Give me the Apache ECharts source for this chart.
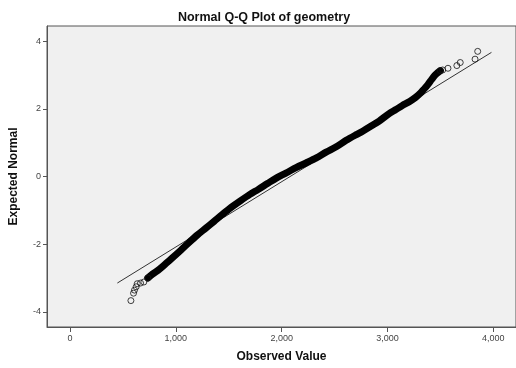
<!DOCTYPE html>
<html>
<head>
<meta charset="utf-8">
<script src="https://cdn.jsdelivr.net/npm/echarts@6/dist/echarts.min.js"></script>
<style>html,body{margin:0;padding:0;background:#fff}#c{width:516px;height:368px}</style>
</head>
<body>
<div id="c"></div>
<script>
// Dense middle band of the Q-Q plot (observed value, expected normal)
const bandObserved = [735, 782, 844, 907, 969, 1047, 1125, 1203, 1282, 1360, 1440, 1520, 1610, 1700, 1780, 1870, 1953, 2040, 2141, 2230, 2328, 2420, 2516, 2610, 2700, 2766, 2850, 2922, 3016, 3080, 3141, 3210, 3266, 3310, 3344, 3380, 3406, 3430, 3453, 3500];
const bandExpected = [-3.00, -2.88, -2.74, -2.57, -2.40, -2.18, -1.95, -1.73, -1.53, -1.33, -1.12, -0.92, -0.72, -0.53, -0.38, -0.20, -0.04, 0.10, 0.27, 0.40, 0.55, 0.72, 0.88, 1.07, 1.23, 1.34, 1.50, 1.64, 1.86, 1.98, 2.10, 2.22, 2.34, 2.46, 2.58, 2.71, 2.82, 2.92, 3.01, 3.13];
// Sparse tail points drawn as individual circles
const tailObserved = [575, 600, 609, 625, 635, 666, 697, 735, 3500, 3522, 3572, 3656, 3688, 3828, 3853];
const tailExpected = [-3.67, -3.45, -3.36, -3.26, -3.17, -3.15, -3.12, -3.00, 3.13, 3.15, 3.20, 3.28, 3.37, 3.47, 3.70];
// Reference line endpoints
const refObserved = [447, 3983];
const refExpected = [-3.15, 3.67];
// Tick labels
const xTicks = [0, 1000, 2000, 3000, 4000];
const yTicks = [-4, -2, 0, 2, 4];

const zip = (a, b) => a.map((v, i) => [v, b[i]]);
const fmt = v => String(v).replace(/\B(?=(\d{3})+(?!\d))/g, ',');

const chart = echarts.init(document.getElementById('c'), null, {renderer: 'canvas'});
chart.setOption({
  animation: false,
  backgroundColor: '#ffffff',
  title: {
    text: 'Normal Q-Q Plot of geometry',
    left: 259, top: 6, textAlign: 'center',
    textStyle: {fontFamily: 'Liberation Sans, Arial', fontSize: 12.5, fontWeight: 'bold', color: '#111'}
  },
  grid: {
    left: 45, top: 26, right: -2, bottom: 34,
    show: true, backgroundColor: '#f0f0f0', borderColor: '#555', borderWidth: 1
  },
  xAxis: {
    type: 'value', min: -218, max: 4215,
    name: 'Observed Value', nameLocation: 'middle', nameGap: 24,
    nameTextStyle: {fontFamily: 'Liberation Sans, Arial', fontSize: 12, fontWeight: 'bold', color: '#111'},
    axisLine: {show: true, onZero: false, lineStyle: {color: '#555'}},
    axisTick: {show: true, length: 5, customValues: xTicks, lineStyle: {color: '#555'}},
    axisLabel: {customValues: xTicks, formatter: v => fmt(v), fontFamily: 'Liberation Sans, Arial', fontSize: 9, color: '#444', margin: 7},
    splitLine: {show: false}
  },
  yAxis: {
    type: 'value', min: -4.45, max: 4.45,
    name: 'Expected Normal', nameLocation: 'middle', nameGap: 27, nameRotate: 90,
    nameTextStyle: {fontFamily: 'Liberation Sans, Arial', fontSize: 12, fontWeight: 'bold', color: '#111'},
    axisLine: {show: true, onZero: false, lineStyle: {color: '#555'}},
    axisTick: {show: true, length: 4, customValues: yTicks, lineStyle: {color: '#555'}},
    axisLabel: {customValues: yTicks, fontFamily: 'Liberation Sans, Arial', fontSize: 9, color: '#444', margin: 6},
    splitLine: {show: false}
  },
  series: [
    {
      type: 'line', data: zip(refObserved, refExpected), symbol: 'none',
      lineStyle: {color: '#333', width: 1}, z: 1
    },
    {
      type: 'line', data: zip(bandObserved, bandExpected), symbol: 'none', smooth: 0.3,
      lineStyle: {color: '#000', width: 7, cap: 'round', join: 'round'}, z: 2
    },
    {
      type: 'scatter', data: zip(tailObserved, tailExpected), symbol: 'circle', symbolSize: 6,
      itemStyle: {color: 'rgba(0,0,0,0)', borderColor: '#111', borderWidth: 1}, z: 3
    }
  ]
});
</script>
</body>
</html>
